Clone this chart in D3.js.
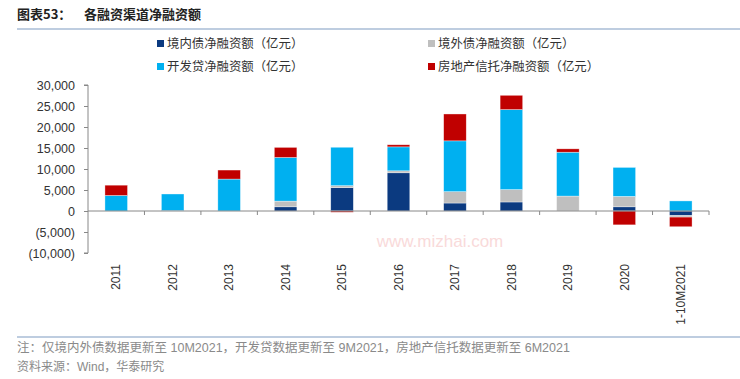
<!DOCTYPE html>
<html>
<head>
<meta charset="utf-8">
<script src="https://cdn.jsdelivr.net/npm/d3@7"></script>
<style>
  body { margin: 0; background: #fff; }
  text { font-family: "Liberation Sans", Arial, "Noto Sans CJK SC", sans-serif; }
  .cjk { font-family: "Noto Sans CJK SC", sans-serif; }
</style>
</head>
<body>
<div id="chart"></div>
<script>
// 各融资渠道净融资额 (亿元)
const years = ["2011", "2012", "2013", "2014", "2015", "2016", "2017", "2018", "2019", "2020", "1-10M2021"];
const domestic = [0, 100, 0, 1000, 5550, 9100, 1900, 2150, 0, 1000, -1100];
const foreign  = [0, 0, 0, 1350, 480, 470, 2700, 2950, 3550, 2480, -350];
const devLoan  = [3700, 3950, 7600, 10400, 9150, 5700, 12100, 19050, 10450, 6900, 2400];
const trust    = [2450, 0, 2150, 2400, -300, 500, 6400, 3400, 800, -3300, -2300];

const seriesNames = ["境内债净融资额（亿元）", "境外债净融资额（亿元）", "开发贷净融资额（亿元）", "房地产信托净融资额（亿元）"];
const seriesKeys = ["domestic", "foreign", "devLoan", "trust"];
const colors = ["#0b3a80", "#bfbfbf", "#00b0f0", "#c00000"];
const yTicks = [-10000, -5000, 0, 5000, 10000, 15000, 20000, 25000, 30000];

const width = 740, height = 379;
const svg = d3.select("#chart").append("svg")
  .attr("width", width).attr("height", height);

// title + rules
svg.append("text").attr("class", "cjk").attr("x", 17).attr("y", 19)
  .attr("font-size", 13).attr("font-weight", "bold").attr("fill", "#222")
  .text("图表53：");
svg.append("text").attr("class", "cjk").attr("x", 84).attr("y", 19)
  .attr("font-size", 13).attr("font-weight", "bold").attr("fill", "#222")
  .text("各融资渠道净融资额");
svg.append("line").attr("x1", 17).attr("x2", width).attr("y1", 29).attr("y2", 29)
  .attr("stroke", "#a9bdd6").attr("stroke-width", 1.5);
svg.append("line").attr("x1", 17).attr("x2", width).attr("y1", 337).attr("y2", 337)
  .attr("stroke", "#a9bdd6").attr("stroke-width", 1.5);

// watermark
svg.append("text").attr("x", 440).attr("y", 247).attr("text-anchor", "middle")
  .attr("font-size", 17).attr("fill", "#f9dada").text("www.mizhai.com");

const table = years.map((y, i) => ({
  year: y, domestic: domestic[i], foreign: foreign[i], devLoan: devLoan[i], trust: trust[i]
}));

const x = d3.scaleBand().domain(years).range([88, 709]).padding(0);
const y = d3.scaleLinear().domain([-10000, 30000]).range([253, 85]);

const stack = d3.stack().keys(seriesKeys).offset(d3.stackOffsetDiverging);
const layers = stack(table);

const barW = x.bandwidth() * 0.4;
svg.append("g").selectAll("g")
  .data(layers)
  .join("g")
  .attr("fill", (d, i) => colors[i])
  .selectAll("rect")
  .data(d => d)
  .join("rect")
  .attr("x", d => x(d.data.year) + (x.bandwidth() - barW) / 2)
  .attr("y", d => y(Math.max(d[0], d[1])))
  .attr("width", barW)
  .attr("height", d => Math.abs(y(d[0]) - y(d[1])))
  .attr("stroke", "#fff").attr("stroke-opacity", 0.6).attr("stroke-width", 0.6);

// y axis
const fmt = v => v < 0 ? "(" + d3.format(",")(-v) + ")" : d3.format(",")(v);
const yAxis = svg.append("g").attr("transform", "translate(88,0)")
  .call(d3.axisLeft(y).tickValues(yTicks).tickFormat(fmt).tickSize(4).tickPadding(9));
yAxis.select(".domain").attr("stroke", "#888").attr("d", "M-4,85H0V253H-4");
yAxis.selectAll(".tick line").attr("stroke", "#888");
yAxis.selectAll(".tick text").attr("font-size", 12.5).attr("fill", "#333")
  .attr("font-family", "'Liberation Sans', Arial, sans-serif");

// x axis at zero
const y0 = y(0);
svg.append("line").attr("x1", 88).attr("x2", 709).attr("y1", y0).attr("y2", y0)
  .attr("stroke", "#888");
svg.append("g").selectAll("line")
  .data(years.slice(1).concat(["end"]))
  .join("line")
  .attr("x1", d => d === "end" ? x.range()[1] : x(d))
  .attr("x2", d => d === "end" ? x.range()[1] : x(d))
  .attr("y1", y0).attr("y2", y0 + 4)
  .attr("stroke", "#888");

svg.append("g").selectAll("text")
  .data(years)
  .join("text")
  .attr("transform", d => `translate(${x(d) + x.bandwidth() / 2},264) rotate(-90)`)
  .attr("text-anchor", "end").attr("dy", "0.35em")
  .attr("font-size", 12).attr("fill", "#333")
  .text(d => d);

// legend
const legendPos = [[157, 44], [428, 44], [157, 67], [428, 67]];
const legend = svg.append("g").selectAll("g")
  .data(seriesNames)
  .join("g")
  .attr("transform", (d, i) => `translate(${legendPos[i][0]},${legendPos[i][1]})`);
legend.append("rect").attr("x", 0).attr("y", -4).attr("width", 7).attr("height", 7)
  .attr("fill", (d, i) => colors[i]);
legend.append("text").attr("class", "cjk").attr("x", 10).attr("y", 0).attr("dy", "0.35em")
  .attr("font-size", 12.4).attr("fill", "#333").text(d => d);

// notes
svg.append("text").attr("x", 17).attr("y", 352)
  .attr("font-size", 12.5).attr("fill", "#8a8a8a")
  .text("注：仅境内外债数据更新至 10M2021，开发贷数据更新至 9M2021，房地产信托数据更新至 6M2021");
svg.append("text").attr("x", 17).attr("y", 371)
  .attr("font-size", 12).attr("fill", "#8a8a8a")
  .text("资料来源：Wind，华泰研究");
</script>
</body>
</html>
